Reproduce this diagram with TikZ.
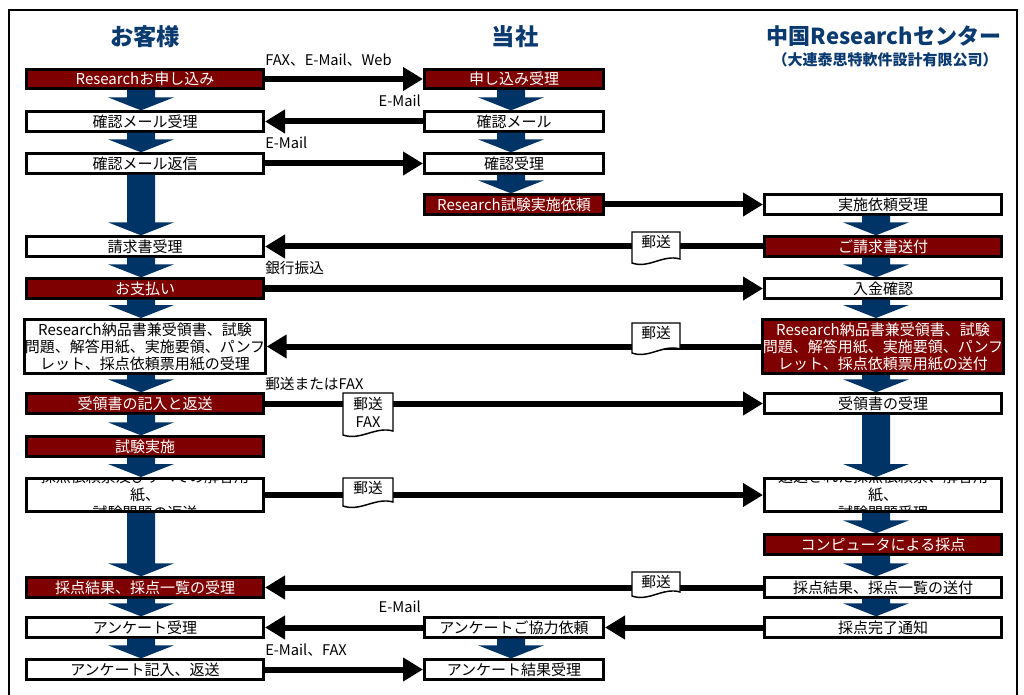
\documentclass[tikz,border=0pt]{standalone}
\usepackage{fontspec}
\setmainfont{Noto Sans CJK JP}
\usetikzlibrary{arrows.meta,calc}
\definecolor{maroonbox}{HTML}{7F0000}
\definecolor{navy}{HTML}{003366}
\definecolor{headblue}{HTML}{0B3A70}
\newcommand\barrow[3]{\fill[navy] let \p1=(#1.south), \p2=(#2.north) in
  ({(#3)*0.75pt-10.5pt},{\y1}) -- ({(#3)*0.75pt+10.5pt},{\y1}) --
  ({(#3)*0.75pt+10.5pt},{\y2+9.75pt}) -- ({(#3)*0.75pt+24.75pt},{\y2+9.75pt}) --
  ({(#3)*0.75pt},{\y2}) -- ({(#3)*0.75pt-24.75pt},{\y2+9.75pt}) --
  ({(#3)*0.75pt-10.5pt},{\y2+9.75pt}) -- cycle;}
\newcommand\docshape[4]{\draw[docline] (#1,#2) -- (#3,#2) -- (#3,{#4-6})
  .. controls ({#1+0.65*(#3-#1)},{#4-11}) and ({#1+0.35*(#3-#1)},{#4+4}) .. (#1,{#4-2}) -- cycle;}
\begin{document}
\begin{tikzpicture}[x=0.75pt,y=-0.75pt,
  box/.style={draw=black, line width=2.25pt, inner xsep=0pt, inner ysep=0pt, align=center,
    minimum height=14.5pt, font=\fontsize{11.25pt}{12.75pt}\selectfont},
  wbox/.style={box, fill=white, text=black},
  rbox/.style={box, fill=maroonbox, text=white},
  wide/.style={minimum width=177.75pt},
  narrow/.style={minimum width=134.25pt},
  tall/.style={minimum height=40.5pt},
  mid/.style={minimum height=24.75pt},
  conn/.style={line width=4.5pt, -{Triangle[length=15pt,width=17pt]}},
  lbl/.style={inner sep=0pt, font=\fontsize{11pt}{13pt}\selectfont},
  docline/.style={fill=white, draw=black, line width=1.1pt},
  doctext/.style={inner sep=0pt, align=center, font=\fontsize{11pt}{13.5pt}\selectfont},
  cliptext/.style={inner sep=0pt, align=center, font=\fontsize{11.25pt}{13.5pt}\selectfont},
  head/.style={text=headblue, inner sep=0pt}
]
\useasboundingbox (0,0) rectangle (1024,695);
\clip (0,0) rectangle (1024,695);
\fill[white] (0,0) rectangle (1024,695);
\draw[line width=1.5pt] (9,10) rectangle (1017,720);

% headers
\node[head, font=\bfseries\fontsize{17.5pt}{20pt}\selectfont] (h1) at (145,37) {お客様};
\node[head, font=\bfseries\fontsize{17.5pt}{20pt}\selectfont] (h2) at (515,37) {当社};
\node[head, font=\bfseries\fontsize{16.5pt}{20pt}\selectfont] (h3) at (884,36) {中国Researchセンター};
\node[head, font=\bfseries\fontsize{11.25pt}{14pt}\selectfont] (h4) at (885,60) {（大連泰思特軟件設計有限公司）};

% column 1
\node[rbox,wide] (a1) at (145,79) {Researchお申し込み};
\node[wbox,wide] (a2) at (145,121.5) {確認メール受理};
\node[wbox,wide] (a3) at (145,163.5) {確認メール返信};
\node[wbox,wide] (a5) at (145,246.5) {請求書受理};
\node[rbox,wide] (a6) at (145,288.5) {お支払い};
\node[wbox,wide,tall] (a7) at (145,346.5) {Research納品書兼受領書、試験\\問題、解答用紙、実施要領、パンフ\\レット、採点依頼票用紙の受理};
\node[rbox,wide] (a8) at (145,403.5) {受領書の記入と返送};
\node[rbox,wide] (a9) at (145,446.5) {試験実施};
\node[wbox,wide,mid] (a10) at (145,495) {};
\node[rbox,wide] (a12) at (145,587.5) {採点結果、採点一覧の受理};
\node[wbox,wide] (a13) at (145,627.5) {アンケート受理};
\node[wbox,wide] (a14) at (145,669.5) {アンケート記入、返送};

% column 2
\node[rbox,narrow] (b1) at (514,79) {申し込み受理};
\node[wbox,narrow] (b2) at (514,121.5) {確認メール};
\node[wbox,narrow] (b3) at (514,163.5) {確認受理};
\node[rbox,narrow] (b4) at (514,204.5) {Research試験実施依頼};
\node[wbox,narrow] (b13) at (514,627.5) {アンケートご協力依頼};
\node[wbox,narrow] (b14) at (514,669.5) {アンケート結果受理};

% column 3
\node[wbox,wide] (c4) at (883,204.5) {実施依頼受理};
\node[rbox,wide] (c5) at (883,246.5) {ご請求書送付};
\node[wbox,wide] (c6) at (883,288.5) {入金確認};
\node[rbox,wide,tall] (c7) at (883,346.5) {Research納品書兼受領書、試験\\問題、解答用紙、実施要領、パンフ\\レット、採点依頼票用紙の送付};
\node[wbox,wide] (c8) at (883,403.5) {受領書の受理};
\node[wbox,wide,mid] (c10) at (883,495) {};
\node[rbox,wide] (c11) at (883,544.5) {コンピュータによる採点};
\node[wbox,wide] (c12) at (883,587.5) {採点結果、採点一覧の送付};
\node[wbox,wide] (c13) at (883,627.5) {採点完了通知};

% clipped texts
\begin{scope}
\clip ([xshift=2.25pt,yshift=-2.25pt]a10.north west) rectangle ([xshift=-2.25pt,yshift=2.25pt]a10.south east);
\node[cliptext] (t10) at (a10.center) {採点依頼票及びすべての解答用\\紙、\\試験問題の返送};
\end{scope}
\begin{scope}
\clip ([xshift=2.25pt,yshift=-2.25pt]c10.north west) rectangle ([xshift=-2.25pt,yshift=2.25pt]c10.south east);
\node[cliptext] (u10) at (c10.center) {返送された採点依頼票、解答用\\紙、\\試験問題受理};
\end{scope}

% blue flow arrows
\barrow{a1}{a2}{141} \barrow{a2}{a3}{141} \barrow{a3}{a5}{141} \barrow{a5}{a6}{141}
\barrow{a6}{a7}{141} \barrow{a7}{a8}{141} \barrow{a8}{a9}{141} \barrow{a9}{a10}{141}
\barrow{a10}{a12}{141} \barrow{a12}{a13}{141} \barrow{a13}{a14}{141}
\barrow{b1}{b2}{511} \barrow{b2}{b3}{511} \barrow{b3}{b4}{511} \barrow{b13}{b14}{511}
\barrow{c4}{c5}{876} \barrow{c5}{c6}{876} \barrow{c6}{c7}{876} \barrow{c7}{c8}{876}
\barrow{c8}{c10}{876} \barrow{c10}{c11}{876} \barrow{c11}{c12}{876} \barrow{c12}{c13}{876}

% connectors
\draw[conn] (a1) -- (b1);
\draw[conn] (b2) -- (a2);
\draw[conn] (a3) -- (b3);
\draw[conn] (b4) -- (c4);
\draw[conn] (c5) -- (a5);
\draw[conn] (a6) -- (c6);
\draw[conn] (c7) -- (a7);
\draw[conn] (a8) -- (c8);
\draw[conn] (a10) -- (c10);
\draw[conn] (c12) -- (a12);
\draw[conn] (b13) -- (a13);
\draw[conn] (c13) -- (b13);
\draw[conn] (a14) -- (b14);

% labels
\node[lbl, anchor=west] (l1) at (265,60) {FAX、E-Mail、Web};
\node[lbl, anchor=east] (l2) at (421,101) {E-Mail};
\node[lbl, anchor=west] (l3) at (265,143) {E-Mail};
\node[lbl, anchor=west] (l6) at (265,268) {銀行振込};
\node[lbl, anchor=west] (l8) at (265,384) {郵送またはFAX};
\node[lbl, anchor=east] (l13) at (421,607) {E-Mail};
\node[lbl, anchor=west] (l14) at (265,650) {E-Mail、FAX};

% document shapes
\docshape{632}{232}{680}{265}
\node[doctext] (d5) at (656,242) {郵送};
\docshape{632}{323}{680}{355}
\node[doctext] (d7) at (656,333) {郵送};
\docshape{343}{393}{393}{437}
\node[doctext] (d8) at (368,412) {郵送\\FAX};
\docshape{343}{478}{393}{508}
\node[doctext] (d10) at (368,488) {郵送};
\docshape{632}{572}{680}{598}
\node[doctext] (d12) at (656,582) {郵送};
\end{tikzpicture}
\end{document}
